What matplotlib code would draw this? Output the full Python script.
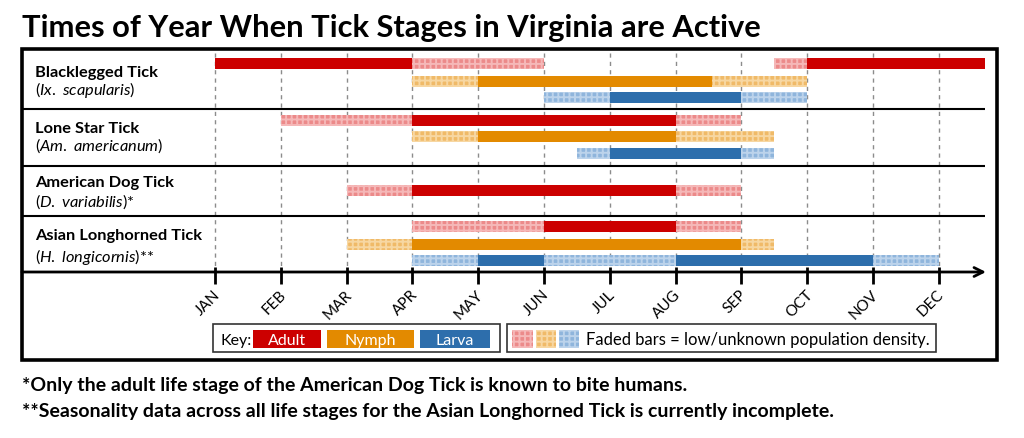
import matplotlib
matplotlib.use("Agg")
import matplotlib.pyplot as plt
from matplotlib.patches import Rectangle

plt.rcParams['hatch.linewidth'] = 1.4
plt.rcParams['mathtext.fontset'] = 'custom'
plt.rcParams['mathtext.it'] = 'Lato:italic'
plt.rcParams['mathtext.rm'] = 'Lato'

LABEL = ['Lato', 'DejaVu Sans']

# Datos: (inicio, fin, desvanecido) en meses desde el 1 de enero
months = ['JAN', 'FEB', 'MAR', 'APR', 'MAY', 'JUN', 'JUL', 'AUG', 'SEP', 'OCT', 'NOV', 'DEC']

blacklegged_adult = [(0, 3, 0), (3, 5, 1), (8.5, 9, 1), (9, 11.7, 0)]
blacklegged_nymph = [(3, 4, 1), (4, 7.55, 0), (7.55, 9, 1)]
blacklegged_larva = [(5, 6, 1), (6, 8, 0), (8, 9, 1)]

lonestar_adult = [(1, 3, 1), (3, 7, 0), (7, 8, 1)]
lonestar_nymph = [(3, 4, 1), (4, 7, 0), (7, 8.5, 1)]
lonestar_larva = [(5.5, 6, 1), (6, 8, 0), (8, 8.5, 1)]

dog_adult = [(2, 3, 1), (3, 7, 0), (7, 8, 1)]

longhorned_adult = [(3, 5, 1), (5, 7, 0), (7, 8, 1)]
longhorned_nymph = [(2, 3, 1), (3, 8, 0), (8, 8.5, 1)]
longhorned_larva = [(3, 4, 1), (4, 5, 0), (5, 7, 1), (7, 10, 0), (10, 11, 1)]

species = ['Blacklegged Tick', 'Lone Star Tick', 'American Dog Tick', 'Asian Longhorned Tick']
latin = [r'($\mathit{Ix.\ scapularis}$)', r'($\mathit{Am.\ americanum}$)',
         r'($\mathit{D.\ variabilis}$)*', r'($\mathit{H.\ longicornis}$)**']
stages = ['Adult', 'Nymph', 'Larva']

solid = {'Adult': '#CC0000', 'Nymph': '#E38A00', 'Larva': '#2D6EAC'}
faded = {'Adult': ('#EC8A8A', '#F5B8B8'), 'Nymph': ('#F0BA68', '#F7D7A2'),
         'Larva': ('#8FB5DC', '#BCD3EB')}

# layout en pixeles (y hacia abajo)
X0, PX = 215, 65.8


def mx(px):
    return (px - X0) / PX


rows = [
    (blacklegged_adult, 'Adult', 64.5), (blacklegged_nymph, 'Nymph', 82), (blacklegged_larva, 'Larva', 98.5),
    (lonestar_adult, 'Adult', 121), (lonestar_nymph, 'Nymph', 137.5), (lonestar_larva, 'Larva', 154.5),
    (dog_adult, 'Adult', 191),
    (longhorned_adult, 'Adult', 227.5), (longhorned_nymph, 'Nymph', 245), (longhorned_larva, 'Larva', 261.5),
]
name_y = [77, 133, 187, 240]
latin_y = [95, 151, 207, 262]
AXIS_Y = 273

fig = plt.figure(figsize=(10.24, 4.39), dpi=100)
ax = fig.add_axes([0, 0, 1, 1])
ax.set_xlim(mx(0), mx(1024))
ax.set_ylim(439, 0)
ax.axis('off')


def rect_px(x0, y0, x1, y1, **kw):
    ax.add_patch(Rectangle((mx(x0), y0), mx(x1) - mx(x0), y1 - y0, **kw))


# caja exterior
rect_px(22, 50, 997, 361, fill=False, lw=2.6, edgecolor='black', zorder=5)

# cuadricula
mpos = list(range(len(months)))
ax.vlines(mpos, 54, AXIS_Y, colors='#8c8c8c', linestyles=(0, (3, 3)), lw=1, zorder=1)
ax.hlines([109.5, 166.5, 216.5], mx(22), mx(985), colors='black', lw=1.5, zorder=3)

# barras
for segs, stage, y in rows:
    for start, end, fd in segs:
        if fd:
            face, hatch_c = faded[stage]
            ax.barh(y, end - start, left=start, height=11, color=face, edgecolor=hatch_c,
                    hatch='+++', lw=0, zorder=2)
        else:
            ax.barh(y, end - start, left=start, height=11, color=solid[stage], lw=0, zorder=2)

# eje con flecha
ax.annotate('', xy=(mx(986), AXIS_Y), xytext=(mx(22), AXIS_Y),
            arrowprops=dict(arrowstyle='->', lw=2, color='black', shrinkA=0, shrinkB=0,
                            mutation_scale=16), zorder=4)
ax.vlines(mpos, 268, 285, colors='black', lw=2, zorder=4)
for i, m in enumerate(months):
    ax.text(i + mx(X0 + 8), 288, m, rotation=45, ha='right', va='top',
            family=LABEL, fontsize=11)

# nombres de especies
for nm, lt, y1, y2 in zip(species, latin, name_y, latin_y):
    ax.text(mx(35), y1, nm, family=LABEL, fontweight='bold', fontsize=11.8, va='baseline')
    ax.text(mx(35), y2, lt, family=LABEL, fontsize=11.8, va='baseline')

# leyenda
rect_px(213, 325, 500, 353, fill=False, lw=1.2, edgecolor='#333333', zorder=5)
ax.text(mx(220), 345, 'Key:', family=LABEL, fontsize=11.5, va='baseline')
for stage, (x0, x1) in zip(stages, [(253, 321), (327, 414), (420, 490)]):
    rect_px(x0, 331, x1, 349, color=solid[stage], lw=0, zorder=5)
    ax.text((mx(x0) + mx(x1)) / 2, 345, stage, color='white', family=LABEL,
            fontsize=11.5, ha='center', va='baseline', zorder=6)

rect_px(507, 325, 936, 353, fill=False, lw=1.2, edgecolor='#333333', zorder=5)
for stage, (x0, x1) in zip(stages, [(512, 533), (536, 556), (559, 579)]):
    face, hatch_c = faded[stage]
    rect_px(x0, 331, x1, 349, facecolor=face, edgecolor=hatch_c, hatch='+++', lw=0, zorder=5)
ax.text(mx(586), 345, 'Faded bars = low/unknown population density.', family=LABEL,
        fontsize=12, va='baseline')

# titulo y notas
ax.text(mx(22), 37, 'Times of Year When Tick Stages in Virginia are Active', family=LABEL,
        fontweight='bold', fontsize=22.2, va='baseline')
ax.text(mx(22), 391, '*Only the adult life stage of the American Dog Tick is known to bite humans.',
        family=LABEL, fontweight='bold', fontsize=14, va='baseline')
ax.text(mx(22), 417, '**Seasonality data across all life stages for the Asian Longhorned Tick is currently incomplete.',
        family=LABEL, fontweight='bold', fontsize=14, va='baseline')

fig.savefig('out.png', dpi=100)
